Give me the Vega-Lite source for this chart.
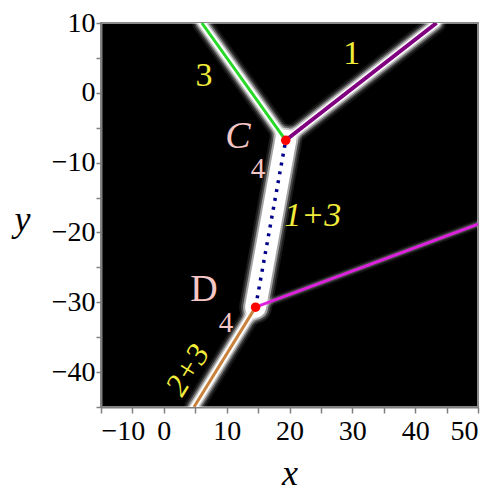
{
  "$schema": "https://vega.github.io/schema/vega-lite/v6.json",
  "autosize": {"type": "none"},
  "width": 377,
  "height": 384,
  "padding": {"left": 101, "top": 23, "right": 22, "bottom": 93},
  "background": "white",
  "config": {
    "view": {"fill": "black", "stroke": "#8a8a8a", "strokeWidth": 2}
  },
  "datasets": {
    "segs": [
      {"seg": "s3", "x": 6.05, "y": 10},
      {"seg": "s3", "x": 19.4, "y": -6.8},
      {"seg": "s1", "x": 19.4, "y": -6.8},
      {"seg": "s1", "x": 43.4, "y": 10},
      {"seg": "s13", "x": 19.4, "y": -6.8},
      {"seg": "s13", "x": 14.6, "y": -30.7},
      {"seg": "s23", "x": 14.6, "y": -30.7},
      {"seg": "s23", "x": 4.8, "y": -45},
      {"seg": "sm", "x": 14.6, "y": -30.7},
      {"seg": "sm", "x": 50, "y": -18.8}
    ],
    "points": [
      {"name": "C", "x": 19.4, "y": -6.8},
      {"name": "D", "x": 14.6, "y": -30.7}
    ],
    "labels": [
      {"text": "1", "x": 29.9, "y": 5.6},
      {"text": "3", "x": 6.4, "y": 2.4},
      {"text": "C", "x": 11.8, "y": -6.3},
      {"text": "4", "x": 15.0, "y": -10.9},
      {"text": "1+3", "x": 23.7, "y": -17.7},
      {"text": "D", "x": 6.4, "y": -28.2},
      {"text": "4", "x": 9.9, "y": -32.9},
      {"text": "2+3", "x": 3.8, "y": -39.7}
    ]
  },
  "encoding": {
    "x": {
      "field": "x", "type": "quantitative",
      "scale": {"domain": [-10, 50], "nice": false, "zero": false},
      "axis": {
        "values": [-10, -5, 0, 5, 10, 15, 20, 25, 30, 35, 40, 45, 50],
        "labelExpr": "datum.value % 10 == 0 ? datum.label : ''",
        "labelOverlap": false,
        "grid": false, "tickSize": 6, "tickColor": "#808080", "tickWidth": 1.5,
        "domainColor": "#808080", "domainWidth": 2, "labelPadding": 4,
        "labelFont": "Liberation Serif", "labelFontSize": 28, "labelColor": "black",
        "title": "x", "titleFont": "Liberation Serif", "titleFontSize": 36, "titleFontStyle": "italic",
        "titleFontWeight": "normal", "titleColor": "black", "titleBaseline": "middle", "titleY": 66
      }
    },
    "y": {
      "field": "y", "type": "quantitative",
      "scale": {"domain": [-45, 10], "nice": false, "zero": false},
      "axis": {
        "values": [-45, -40, -35, -30, -25, -20, -15, -10, -5, 0, 5, 10],
        "labelExpr": "datum.value % 10 == 0 ? datum.label : ''",
        "labelOverlap": false,
        "grid": false, "tickSize": 5, "tickColor": "#808080", "tickWidth": 1.5,
        "domainColor": "#808080", "domainWidth": 2, "labelPadding": 1,
        "labelFont": "Liberation Serif", "labelFontSize": 28, "labelColor": "black",
        "title": "y", "titleFont": "Liberation Serif", "titleFontSize": 36, "titleFontStyle": "italic",
        "titleFontWeight": "normal", "titleColor": "black", "titleAngle": 0, "titleBaseline": "middle",
        "titleAlign": "center", "titleX": -79, "titleY": 196
      }
    }
  },
  "layer": [
    {"data": {"name": "segs"}, "transform": [{"filter": {"field": "seg", "oneOf": ["s3", "s1", "s23"]}}],
     "mark": {"type": "line", "color": "white", "strokeWidth": 20, "opacity": 0.08, "strokeCap": "round", "clip": true},
     "encoding": {"detail": {"field": "seg"}}},
    {"data": {"name": "segs"}, "transform": [{"filter": {"field": "seg", "oneOf": ["s3", "s1", "s23"]}}],
     "mark": {"type": "line", "color": "white", "strokeWidth": 16, "opacity": 0.15, "strokeCap": "round", "clip": true},
     "encoding": {"detail": {"field": "seg"}}},
    {"data": {"name": "segs"}, "transform": [{"filter": {"field": "seg", "oneOf": ["s3", "s1", "s23"]}}],
     "mark": {"type": "line", "color": "white", "strokeWidth": 13, "opacity": 0.3, "strokeCap": "round", "clip": true},
     "encoding": {"detail": {"field": "seg"}}},
    {"data": {"name": "segs"}, "transform": [{"filter": {"field": "seg", "oneOf": ["s3", "s1", "s23"]}}],
     "mark": {"type": "line", "color": "white", "strokeWidth": 10, "opacity": 0.55, "strokeCap": "round", "clip": true},
     "encoding": {"detail": {"field": "seg"}}},
    {"data": {"name": "segs"}, "transform": [{"filter": {"field": "seg", "oneOf": ["s3", "s1", "s23"]}}],
     "mark": {"type": "line", "color": "white", "strokeWidth": 7, "opacity": 1, "strokeCap": "round", "clip": true},
     "encoding": {"detail": {"field": "seg"}}},
    {"data": {"name": "segs"}, "transform": [{"filter": {"field": "seg", "equal": "s13"}}],
     "mark": {"type": "line", "color": "white", "strokeWidth": 33, "opacity": 0.1, "strokeCap": "round", "clip": true},
     "encoding": {}},
    {"data": {"name": "segs"}, "transform": [{"filter": {"field": "seg", "equal": "s13"}}],
     "mark": {"type": "line", "color": "white", "strokeWidth": 29, "opacity": 0.2, "strokeCap": "round", "clip": true},
     "encoding": {}},
    {"data": {"name": "segs"}, "transform": [{"filter": {"field": "seg", "equal": "s13"}}],
     "mark": {"type": "line", "color": "white", "strokeWidth": 25, "opacity": 0.5, "strokeCap": "round", "clip": true},
     "encoding": {}},
    {"data": {"name": "segs"}, "transform": [{"filter": {"field": "seg", "equal": "s13"}}],
     "mark": {"type": "line", "color": "white", "strokeWidth": 21, "opacity": 1, "strokeCap": "round", "clip": true},
     "encoding": {}},
    {"data": {"name": "segs"}, "transform": [{"filter": {"field": "seg", "equal": "sm"}}],
     "mark": {"type": "line", "color": "white", "strokeWidth": 9, "opacity": 0.08, "strokeCap": "round", "clip": true},
     "encoding": {}},
    {"data": {"name": "segs"}, "transform": [{"filter": {"field": "seg", "equal": "sm"}}],
     "mark": {"type": "line", "color": "white", "strokeWidth": 5.5, "opacity": 0.2, "strokeCap": "round", "clip": true},
     "encoding": {}},
    {"data": {"name": "segs"}, "transform": [{"filter": {"field": "seg", "oneOf": ["s3", "s23", "sm"]}}],
     "mark": {"type": "line", "strokeWidth": 3, "clip": true},
     "encoding": {
       "detail": {"field": "seg"},
       "color": {"field": "seg", "type": "nominal", "legend": null,
                 "scale": {"domain": ["s3", "s23", "sm"], "range": ["#2ad82a", "#c8823e", "#dd22dd"]}}
     }},
    {"data": {"name": "segs"}, "transform": [{"filter": {"field": "seg", "equal": "s1"}}],
     "mark": {"type": "line", "color": "#800080", "strokeWidth": 4, "clip": true},
     "encoding": {}},
    {"data": {"name": "segs"}, "transform": [{"filter": {"field": "seg", "equal": "s13"}}],
     "mark": {"type": "line", "color": "#00008b", "strokeWidth": 3.5, "strokeDash": [3, 6], "strokeCap": "butt", "clip": true},
     "encoding": {}},
    {"data": {"name": "points"},
     "mark": {"type": "circle", "color": "#ff0000", "size": 90, "opacity": 1}},
    {"data": {"name": "labels"}, "transform": [{"filter": {"field": "text", "oneOf": ["1", "3"]}}],
     "mark": {"type": "text", "color": "#f2ec3a", "font": "Liberation Serif", "fontSize": 34, "align": "center", "baseline": "middle"},
     "encoding": {"text": {"field": "text"}}},
    {"data": {"name": "labels"}, "transform": [{"filter": {"field": "text", "equal": "1+3"}}],
     "mark": {"type": "text", "color": "#f2ec3a", "font": "Liberation Serif", "fontSize": 34, "fontStyle": "italic", "align": "center", "baseline": "middle"},
     "encoding": {"text": {"field": "text"}}},
    {"data": {"name": "labels"}, "transform": [{"filter": {"field": "text", "equal": "2+3"}}],
     "mark": {"type": "text", "color": "#f2ec3a", "font": "Liberation Serif", "fontSize": 32, "fontStyle": "italic", "align": "center", "baseline": "middle", "angle": 302},
     "encoding": {"text": {"field": "text"}}},
    {"data": {"name": "labels"}, "transform": [{"filter": {"field": "text", "equal": "C"}}],
     "mark": {"type": "text", "color": "#f5c6c6", "font": "Liberation Serif", "fontSize": 38, "fontStyle": "italic", "align": "center", "baseline": "middle"},
     "encoding": {"text": {"field": "text"}}},
    {"data": {"name": "labels"}, "transform": [{"filter": {"field": "text", "equal": "D"}}],
     "mark": {"type": "text", "color": "#f5c6c6", "font": "Liberation Serif", "fontSize": 38, "align": "center", "baseline": "middle"},
     "encoding": {"text": {"field": "text"}}},
    {"data": {"name": "labels"}, "transform": [{"filter": {"field": "text", "equal": "4"}}],
     "mark": {"type": "text", "color": "#f5c6c6", "font": "Liberation Serif", "fontSize": 29, "align": "center", "baseline": "middle"},
     "encoding": {"text": {"field": "text"}}}
  ]
}
